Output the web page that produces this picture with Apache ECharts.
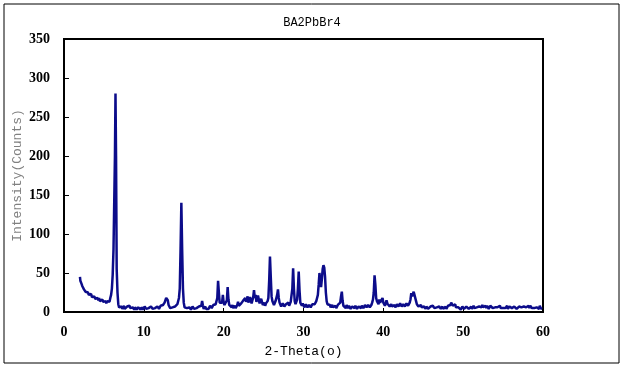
<!DOCTYPE html>
<html>
<head>
<meta charset="utf-8">
<script src="https://cdn.jsdelivr.net/npm/echarts@6/dist/echarts.min.js"></script>
<style>
  html, body { margin: 0; padding: 0; background: #fff; }
  #chart { width: 624px; height: 369px; }
</style>
</head>
<body>
<div id="chart"></div>
<script>
// 图表标题和坐标轴
var chartTitle = 'BA2PbBr4';
var xName = '2-Theta(o)';
var yName = 'Intensity(Counts)';
var xTicks = [0, 10, 20, 30, 40, 50, 60];
var yTicks = [0, 50, 100, 150, 200, 250, 300, 350];

// XRD 数据 [2theta, counts]
var lowAngle = [
  [2.0,45],[2.05,40],[2.1,42],[2.2,36],[2.3,33],[2.4,34],[2.5,29],[2.6,30],[2.7,26],[2.8,27],[2.9,24],
  [3.0,25],[3.1,22],[3.2,24],[3.3,21],[3.4,23],[3.5,19],[3.6,21],[3.7,18],[3.8,20],[3.9,17],
  [4.0,19],[4.1,16],[4.2,18],[4.3,15],[4.4,18],[4.5,14],[4.6,16],[4.7,13],[4.8,16],[4.9,13],
  [5.0,15],[5.1,12],[5.2,14],[5.3,11],[5.4,14],[5.5,12],[5.6,15],[5.7,13],[5.8,18],[5.9,22],
  [6.0,30],[6.1,48],[6.2,80],[6.3,82],[6.38,200],[6.45,280],[6.52,200],[6.6,55],[6.7,25],[6.8,10],
  [6.9,6],[7.0,8],[7.1,5],[7.2,7],[7.3,4],[7.4,6],[7.5,8],[7.6,4],[7.7,6],[7.8,3],[7.9,7],
  [8.0,5],[8.1,7],[8.2,8],[8.3,5],[8.4,4],[8.5,7],[8.6,6],[8.7,4],[8.8,3],[8.9,6],
  [9.0,6],[9.1,3],[9.2,4],[9.3,6],[9.4,7],[9.5,4],[9.6,3],[9.7,6],[9.8,5],[9.9,3],
  [10.0,4],[10.1,7],[10.2,6],[10.3,4],[10.4,3],[10.5,6],[10.6,5],[10.7,3],[10.8,4],[10.9,7],
  [11.0,6],[11.1,4],[11.2,3],[11.3,6],[11.4,5],[11.5,3],[11.6,4],[11.7,7],[11.8,6],[11.9,4],
  [12.0,5],[12.1,8],[12.2,7],[12.3,6],[12.4,9],[12.5,8],[12.6,12],[12.7,11],[12.8,18],[12.9,20],
  [13.0,15],[13.1,9],[13.2,7],[13.3,5],[13.4,4],[13.5,7],[13.6,6],[13.7,4],[13.8,5],[13.9,7],
  [14.0,8],[14.1,6],[14.2,10],[14.3,9],[14.4,18],[14.5,30],[14.6,80],[14.7,140],[14.8,80],[14.9,30],
  [15.0,12],[15.1,6],[15.2,4],[15.3,7],[15.4,5],[15.5,4],[15.6,3],[15.7,6],[15.8,5],[15.9,3],
  [16.0,4],[16.1,7],[16.2,6],[16.3,4],[16.4,3],[16.5,6],[16.6,5],[16.7,3],[16.8,4],[16.9,7],
  [17.0,6],[17.1,5],[17.2,8],[17.3,14],[17.4,8],[17.5,4],[17.6,5],[17.7,7],[17.8,4],[17.9,6],
  [18.0,6],[18.1,4],[18.2,5],[18.3,8],[18.4,7],[18.5,5],[18.6,5],[18.7,9],[18.8,8],[18.9,7],
  [19.0,10],[19.1,12],[19.2,18],[19.3,40],[19.4,25],[19.5,12],[19.6,10],[19.7,14],[19.8,12],[19.9,22],
  [20.0,12],[20.1,9],[20.2,8],[20.3,11],[20.4,15],[20.5,32],[20.6,16],[20.7,9],[20.8,8],[20.9,10]
];
var midAngle = [
  [21.0,6],[21.1,9],[21.2,5],[21.3,7],[21.4,8],[21.5,5],[21.6,6],[21.7,9],[21.8,13],[21.9,8],
  [22.0,10],[22.1,6],[22.2,11],[22.3,9],[22.4,14],[22.5,12],[22.6,16],[22.7,18],[22.8,13],[22.9,16],
  [23.0,20],[23.1,12],[23.2,14],[23.3,19],[23.4,18],[23.5,11],[23.6,12],[23.7,19],[23.8,28],[23.9,18],
  [24.0,22],[24.1,13],[24.2,14],[24.3,21],[24.4,20],[24.5,11],[24.6,12],[24.7,17],[24.8,16],[24.9,9],
  [25.0,10],[25.1,12],[25.2,8],[25.3,11],[25.4,10],[25.5,14],[25.6,18],[25.7,40],[25.8,71],[25.9,45],
  [26.0,20],[26.1,14],[26.2,12],[26.3,9],[26.4,10],[26.5,14],[26.6,18],[26.7,22],[26.8,29],[26.9,18],
  [27.0,12],[27.1,10],[27.2,7],[27.3,8],[27.4,11],[27.5,9],[27.6,7],[27.7,6],[27.8,10],[27.9,8],
  [28.0,9],[28.1,12],[28.2,8],[28.3,10],[28.4,13],[28.5,15],[28.6,30],[28.7,56],[28.8,30],[28.9,14],
  [29.0,10],[29.1,12],[29.2,16],[29.3,30],[29.4,52],[29.5,28],[29.6,12],[29.7,10],[29.8,8],[29.9,11],
  [30.0,10],[30.1,6],[30.2,7],[30.3,10],[30.4,9],[30.5,6],[30.6,6],[30.7,9],[30.8,8],[30.9,6],
  [31.0,7],[31.1,10],[31.2,9],[31.3,8],[31.4,10],[31.5,12],[31.6,14],[31.7,18],[31.8,22],[31.9,35],
  [32.0,50],[32.1,40],[32.2,32],[32.3,42],[32.4,55],[32.5,60],[32.6,57],[32.7,45],[32.8,25],[32.9,14],
  [33.0,10],[33.1,12],[33.2,8],[33.3,9],[33.4,6],[33.5,8],[33.6,9],[33.7,6],[33.8,5],[33.9,8],
  [34.0,8],[34.1,5],[34.2,6],[34.3,9],[34.4,9],[34.5,7],[34.6,12],[34.7,20],[34.8,26],[34.9,14],
  [35.0,8],[35.1,10],[35.2,6],[35.3,5],[35.4,9],[35.5,7],[35.6,5],[35.7,8],[35.8,7],[35.9,4],
  [36.0,4],[36.1,7],[36.2,8],[36.3,5],[36.4,5],[36.5,8],[36.6,7],[36.7,4],[36.8,4],[36.9,7],
  [37.0,8],[37.1,5],[37.2,5],[37.3,8],[37.4,7],[37.5,5],[37.6,6],[37.7,9],[37.8,9],[37.9,6],
  [38.0,6],[38.1,9],[38.2,8],[38.3,6],[38.4,7],[38.5,9],[38.6,12],[38.7,16],[38.8,25],[38.9,47],
  [39.0,35],[39.1,18],[39.2,14],[39.3,12],[39.4,10],[39.5,16],[39.6,12],[39.7,10],[39.8,13],[39.9,18],
  [40.0,12],[40.1,10],[40.2,8],[40.3,11],[40.4,15],[40.5,11],[40.6,9],[40.7,10],[40.8,7],[40.9,9]
];
var highAngle = [
  [41.0,10],[41.1,7],[41.2,6],[41.3,9],[41.4,9],[41.5,6],[41.6,7],[41.7,10],[41.8,11],[41.9,7],
  [42.0,8],[42.1,11],[42.2,10],[42.3,7],[42.4,7],[42.5,10],[42.6,9],[42.7,7],[42.8,8],[42.9,11],
  [43.0,10],[43.1,8],[43.2,9],[43.3,12],[43.4,16],[43.5,24],[43.6,20],[43.7,18],[43.8,26],[43.9,22],
  [44.0,24],[44.1,14],[44.2,10],[44.3,8],[44.4,7],[44.5,6],[44.6,8],[44.7,9],[44.8,6],[44.9,5],
  [45.0,8],[45.1,7],[45.2,5],[45.3,4],[45.4,7],[45.5,6],[45.6,4],[45.7,3],[45.8,6],[45.9,7],
  [46.0,5],[46.1,5],[46.2,8],[46.3,8],[46.4,5],[46.5,4],[46.6,7],[46.7,6],[46.8,4],[46.9,4],
  [47.0,7],[47.1,7],[47.2,4],[47.3,5],[47.4,7],[47.5,4],[47.6,4],[47.7,6],[47.8,7],[47.9,4],
  [48.0,5],[48.1,8],[48.2,6],[48.3,7],[48.4,9],[48.5,12],[48.6,11],[48.7,8],[48.8,6],[48.9,9],
  [49.0,10],[49.1,6],[49.2,5],[49.3,8],[49.4,6],[49.5,7],[49.6,5],[49.7,3],[49.8,4],[49.9,7],
  [50.0,6],[50.1,4],[50.2,6],[50.3,4],[50.4,7],[50.5,5],[50.6,7],[50.7,4],[50.8,6],[50.9,5],
  [51.0,7],[51.1,4],[51.2,6],[51.3,8],[51.4,5],[51.5,4],[51.6,7],[51.7,6],[51.8,8],[51.9,5],
  [52.0,7],[52.1,5],[52.2,8],[52.3,6],[52.4,9],[52.5,6],[52.6,5],[52.7,6],[52.8,8],[52.9,5],
  [53.0,8],[53.1,6],[53.2,4],[53.3,5],[53.4,8],[53.5,6],[53.6,7],[53.7,5],[53.8,7],[53.9,4],
  [54.0,6],[54.1,5],[54.2,8],[54.3,6],[54.4,4],[54.5,5],[54.6,8],[54.7,5],[54.8,7],[54.9,6],
  [55.0,5],[55.1,4],[55.2,7],[55.3,5],[55.4,6],[55.5,8],[55.6,4],[55.7,5],[55.8,7],[55.9,5],
  [56.0,8],[56.1,5],[56.2,6],[56.3,4],[56.4,7],[56.5,5],[56.6,7],[56.7,4],[56.8,6],[56.9,5],
  [57.0,7],[57.1,5],[57.2,9],[57.3,6],[57.4,5],[57.5,4],[57.6,7],[57.7,5],[57.8,7],[57.9,6],
  [58.0,4],[58.1,5],[58.2,8],[58.3,5],[58.4,8],[58.5,6],[58.6,5],[58.7,4],[58.8,7],[58.9,5],
  [59.0,7],[59.1,4],[59.2,6],[59.3,5],[59.4,7],[59.5,4],[59.6,8],[59.7,5],[59.8,7],[59.9,4]
];

var xrdData = lowAngle.concat(midAngle, highAngle);

var chart = echarts.init(document.getElementById('chart'), null, { renderer: 'canvas' });

var labelFont = {
  color: '#000',
  fontFamily: 'Liberation Serif',
  fontWeight: 'bold',
  fontSize: 14
};

chart.setOption({
  animation: false,
  backgroundColor: '#fff',
  title: {
    text: chartTitle,
    left: 'center',
    top: 12,
    textStyle: { color: '#000', fontFamily: 'Liberation Mono', fontWeight: 'normal', fontSize: 12 }
  },
  graphic: [{
    type: 'rect',
    shape: { x: 4, y: 4, width: 615, height: 359 },
    style: { fill: 'none', stroke: '#000', lineWidth: 1 },
    silent: true
  }],
  grid: {
    left: 64, right: 81, top: 39, bottom: 57,
    outerBoundsMode: 'none',
    containLabel: false,
    show: true,
    borderColor: '#000',
    borderWidth: 2
  },
  xAxis: {
    type: 'value',
    min: xTicks[0],
    max: xTicks[xTicks.length - 1],
    interval: 10,
    name: xName,
    nameLocation: 'middle',
    nameGap: 33,
    nameMoveOverlap: false,
    nameTextStyle: { color: '#000', fontFamily: 'Liberation Mono', fontSize: 13 },
    axisLine: { lineStyle: { color: '#000', width: 2 } },
    axisTick: { inside: true, length: 4, lineStyle: { color: '#000' } },
    axisLabel: Object.assign({ margin: 13 }, labelFont),
    splitLine: { show: false }
  },
  yAxis: {
    type: 'value',
    min: yTicks[0],
    max: yTicks[yTicks.length - 1],
    interval: 50,
    name: yName,
    nameLocation: 'middle',
    nameGap: 40,
    nameMoveOverlap: false,
    nameTextStyle: { color: '#808080', fontFamily: 'Liberation Mono', fontSize: 13 },
    axisLine: { lineStyle: { color: '#000', width: 2 } },
    axisTick: { inside: true, length: 5, lineStyle: { color: '#000' } },
    axisLabel: Object.assign({ margin: 14 }, labelFont),
    splitLine: { show: false }
  },
  series: [{
    type: 'line',
    data: xrdData,
    showSymbol: false,
    symbol: 'none',
    lineStyle: { color: '#0c0c8a', width: 2.5 }
  }]
});
</script>
</body>
</html>
